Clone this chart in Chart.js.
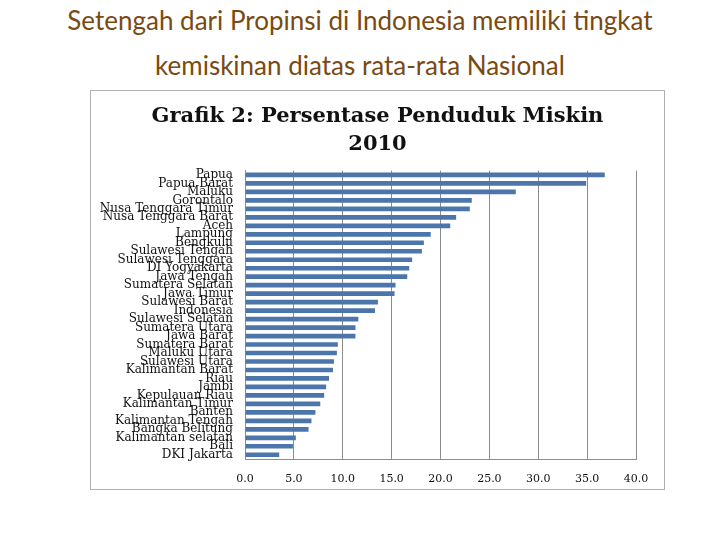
<!DOCTYPE html>
<html lang="id">
<head>
    <meta charset="UTF-8">
    <title>Persentase Penduduk Miskin 2010</title>
    <script src="https://cdn.jsdelivr.net/npm/chart.js"></script>
    <style>
        body {
            margin: 0;
            background: #fff;
            width: 720px;
            height: 540px;
            position: relative;
            overflow: hidden;
        }
        .headline {
            position: absolute;
            left: 0;
            width: 720px;
            text-align: center;
            font-family: Lato, "Noto Sans", sans-serif;
            font-size: 26px;
            color: #7a4a12;
        }
        #box {
            position: absolute;
            left: 90px;
            top: 90px;
            width: 575px;
            height: 400px;
            border: 1px solid #b0b0b0;
            box-sizing: border-box;
        }
    </style>
</head>
<body>
    <div class="headline" style="top:4px">Setengah dari Propinsi di Indonesia memiliki tingkat</div>
    <div class="headline" style="top:49px">kemiskinan diatas rata-rata Nasional</div>
    <div id="box"><canvas id="povertyChart" width="573" height="398"></canvas></div>

    <script>
        const provinces = [
            "Papua", "Papua Barat", "Maluku", "Gorontalo", "Nusa Tenggara Timur",
            "Nusa Tenggara Barat", "Aceh", "Lampung", "Bengkulu", "Sulawesi Tengah",
            "Sulawesi Tenggara", "DI Yogyakarta", "Jawa Tengah", "Sumatera Selatan",
            "Jawa Timur", "Sulawesi Barat", "Indonesia", "Sulawesi Selatan",
            "Sumatera Utara", "Jawa Barat", "Sumatera Barat", "Maluku Utara",
            "Sulawesi Utara", "Kalimantan Barat", "Riau", "Jambi", "Kepulauan Riau",
            "Kalimantan Timur", "Banten", "Kalimantan Tengah", "Bangka Belitung",
            "Kalimantan selatan", "Bali", "DKI Jakarta"
        ];
        const poorPercent = [
            36.8, 34.9, 27.7, 23.2, 23.0,
            21.6, 21.0, 19.0, 18.3, 18.1,
            17.1, 16.8, 16.6, 15.4,
            15.3, 13.6, 13.3, 11.6,
            11.3, 11.3, 9.5, 9.4,
            9.1, 9.0, 8.6, 8.3, 8.1,
            7.7, 7.2, 6.8, 6.5,
            5.2, 4.9, 3.5
        ];
        const xTicks = [0, 5, 10, 15, 20, 25, 30, 35, 40];

        const ctx = document.getElementById("povertyChart").getContext("2d");
        const chart = new Chart(ctx, {
            type: "bar",
            data: {
                labels: provinces,
                datasets: [{
                    label: "Persentase Penduduk Miskin",
                    data: poorPercent,
                    backgroundColor: "#4c76ab",
                    barPercentage: 0.55,
                    categoryPercentage: 1.0
                }]
            },
            options: {
                indexAxis: "y",
                responsive: false,
                animation: false,
                layout: {
                    padding: 0
                },
                plugins: {
                    legend: { display: false },
                    tooltip: { enabled: false },
                    title: {
                        display: true,
                        text: ["Grafik 2: Persentase Penduduk Miskin", "2010"],
                        color: "#111",
                        font: { family: "DejaVu Serif", size: 21, weight: "bold", lineHeight: 1.35 },
                        padding: { top: 11, bottom: 12 }
                    }
                },
                scales: {
                    x: {
                        min: 0,
                        max: 40,
                        afterBuildTicks: axis => {
                            axis.ticks = xTicks.map(v => ({ value: v }));
                        },
                        afterFit: axis => { axis.height = 30; },
                        ticks: {
                            color: "#111",
                            font: { family: "DejaVu Serif", size: 11 },
                            padding: 14,
                            callback: v => v.toFixed(1)
                        },
                        grid: { color: "#8c8c8c", drawTicks: false },
                        border: { color: "#8c8c8c" }
                    },
                    y: {
                        afterFit: axis => { axis.width = 154; },
                        ticks: {
                            autoSkip: false,
                            color: "#111",
                            font: { family: "DejaVu Serif", size: 12, lineHeight: 1 },
                            padding: 4
                        },
                        grid: { display: false },
                        border: { color: "#8c8c8c" }
                    },
                    // empty strip on the right so the title stays centred in the box
                    spacer: {
                        type: "category",
                        position: "right",
                        afterFit: axis => { axis.width = 28; },
                        ticks: { display: false },
                        grid: { display: false },
                        border: { display: false }
                    }
                }
            }
        });
    </script>
</body>
</html>
